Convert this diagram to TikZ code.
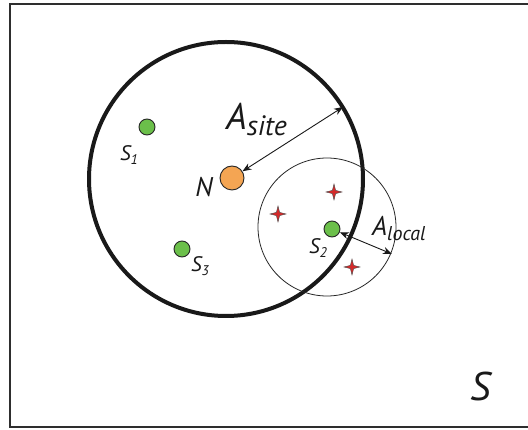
\documentclass[tikz,border=0pt]{standalone}
\usepackage{fontspec}
\setmainfont{PT Sans}
\usetikzlibrary{arrows.meta}
\definecolor{sitegreen}{HTML}{6BBF4A}
\definecolor{nodeorange}{HTML}{F4A553}
\definecolor{starred}{HTML}{D42A2A}
\definecolor{framegray}{HTML}{2E2E2E}
\tikzset{
  sdot/.style={circle,draw=black!85,line width=0.9pt,fill=sitegreen,minimum size=16pt,inner sep=0pt},
  ndot/.style={circle,draw=black!85,line width=0.9pt,fill=nodeorange,minimum size=24pt,inner sep=0pt},
  lbl/.style={font=\itshape,inner sep=0pt,text=black!90},
  dimarrow/.style={{Stealth[length=9pt,width=7pt]}-{Stealth[length=9pt,width=7pt]},line width=0.9pt,black!90},
  starmark/.style={fill=starred,draw=black!70,line width=0.4pt}
}
\newcommand{\fourstar}[1]{\path[starmark] #1 ++(0,-8) -- ++(1.6,6.4) -- ++(6.4,1.6) -- ++(-6.4,1.6) -- ++(-1.6,6.4) -- ++(-1.6,-6.4) -- ++(-6.4,-1.6) -- ++(6.4,-1.6) -- cycle;}
\begin{document}
\begin{tikzpicture}[x=1pt,y=-1pt]
\useasboundingbox (0,0) rectangle (528,430);
\fill[white] (0,0) rectangle (528,430);
% frame
\draw[framegray,line width=2.4pt] (532,4) -- (10,4) -- (10,427) -- (532,427);
% circles
\node[circle,draw=black!90,line width=4pt,minimum size=274pt,inner sep=0pt] (site) at (226,179) {};
\node[circle,draw=black!85,line width=0.8pt,minimum size=138pt,inner sep=0pt] (local) at (327,227) {};
% stars
\fourstar{(334,192)}
\fourstar{(278,214)}
\fourstar{(352,267)}
% dots
\node[sdot] (s1) at (147,127) {};
\node[sdot] (s3) at (182,249) {};
\node[sdot] (s2) at (332,229) {};
\node[ndot] (n) at (232,178) {};
% arrow end points
\coordinate (siteend) at (343,107);
\coordinate (localend) at (392,254);
\draw[dimarrow] (n) -- (siteend);
\draw[dimarrow] (s2) -- (localend);
% labels
\node[lbl,font=\itshape\fontsize{21}{21}\selectfont] (ls1) at (129,155) {S\raisebox{-0.35ex}{\fontsize{14}{14}\selectfont 1}};
\node[lbl,font=\itshape\fontsize{21}{21}\selectfont] (ls3) at (200,266) {S\raisebox{-0.35ex}{\fontsize{14}{14}\selectfont 3}};
\node[lbl,font=\itshape\fontsize{21}{21}\selectfont] (ls2) at (318,248) {S\raisebox{-0.35ex}{\fontsize{14}{14}\selectfont 2}};
\node[lbl,font=\itshape\fontsize{27}{27}\selectfont] (ln) at (204,187) {N};
\node[lbl,font=\itshape\fontsize{37}{37}\selectfont,anchor=base west] (lsite) at (226,130) {A\raisebox{-0.3ex}{\fontsize{28}{28}\selectfont site}};
\node[lbl,font=\itshape\fontsize{27}{27}\selectfont,anchor=base west] (llocal) at (372,236) {A\raisebox{-0.3ex}{\fontsize{20}{20}\selectfont local}};
\node[lbl,font=\itshape\fontsize{40}{40}\selectfont] (ls) at (481,387) {S};
\end{tikzpicture}
\end{document}
